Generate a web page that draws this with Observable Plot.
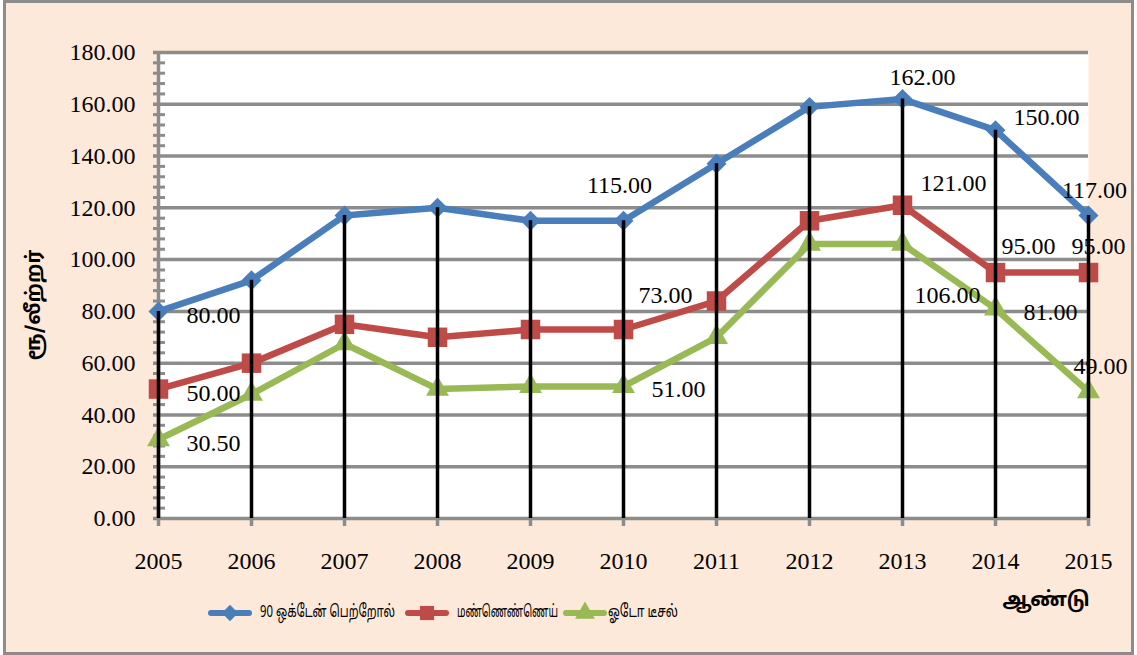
<!DOCTYPE html>
<html><head><meta charset="utf-8">
<script src="https://cdn.jsdelivr.net/npm/d3@7"></script>
<script src="https://cdn.jsdelivr.net/npm/@observablehq/plot@0.6"></script>
<style>
html,body{margin:0;padding:0;background:#fff;width:1137px;height:655px;overflow:hidden;}
#frame{position:absolute;left:3px;top:0;width:1131px;height:655px;box-sizing:border-box;border:3px solid #8c8c8c;background:#fde9d9;}
#chart{position:absolute;left:0;top:0;}
#ytitle{position:absolute;left:35px;top:305px;transform:translate(-50%,-50%) rotate(-90deg);white-space:nowrap;font:bold 20px "Noto Sans Tamil","Lohit Tamil","Latha","Liberation Serif",serif;color:#000;}
#xtitle{position:absolute;left:1046px;top:601px;transform:translate(-50%,-50%);white-space:nowrap;font:bold 20px "Noto Sans Tamil","Lohit Tamil","Latha","Liberation Serif",serif;color:#000;}
#legend{position:absolute;left:0;top:0;width:1137px;height:655px;pointer-events:none;}
#legend svg{position:absolute;}
#legend .lt{position:absolute;white-space:nowrap;font:17px "Noto Sans Tamil","Lohit Tamil","Latha","Liberation Sans",sans-serif;color:#000;transform-origin:0 50%;line-height:22px;}
</style></head><body>
<div id="frame"></div>
<div id="chart"></div>
<div id="ytitle">ரூ/லீற்றர்</div>
<div id="xtitle">ஆண்டு</div>
<div id="legend"></div>
<script>
const years = [2005, 2006, 2007, 2008, 2009, 2010, 2011, 2012, 2013, 2014, 2015];
const petrol = [80, 92, 117, 120, 115, 115, 137, 159, 162, 150, 117];
const kerosene = [50, 60, 75, 70, 73, 73, 84, 115, 121, 95, 95];
const diesel = [30.5, 48, 67.5, 50, 51, 51, 70, 106, 106, 81, 49];
const seriesNames = ["90 ஒக்டேன் பெற்றோல்", "மண்ணெண்ணெய்", "ஓடோ டீசல்"];
const seriesColors = ["#4a7ebb", "#be4b48", "#98b954"];
const yTicks = [0, 20, 40, 60, 80, 100, 120, 140, 160, 180];
// labelled points: [series index, year]
const labelled = [[0, 2005], [0, 2010], [0, 2013], [0, 2014], [0, 2015],
                  [1, 2005], [1, 2010], [1, 2013], [1, 2014], [1, 2015],
                  [2, 2005], [2, 2010], [2, 2013], [2, 2014], [2, 2015]];

const allValues = [petrol, kerosene, diesel];
const rows = [];
allValues.forEach((vals, s) => vals.forEach((v, i) => rows.push({series: seriesNames[s], s, year: years[i], value: v})));
const bySeries = s => rows.filter(r => r.s === s);

// label offsets (layout, px)
const offsets = {
  "0-2005": [55, 4], "0-2010": [-4, -35], "0-2013": [20, -22], "0-2014": [51, -13], "0-2015": [6, -25],
  "1-2005": [55, 4], "1-2010": [42, -34], "1-2013": [51, -22], "1-2014": [33, -26], "1-2015": [10, -26],
  "2-2005": [55, 4], "2-2010": [55, 3], "2-2013": [45, 51], "2-2014": [55, 4], "2-2015": [12, -25]
};

const minorTicks = d3.range(0, 181, 4).filter(v => v % 20 !== 0);
const symbols = ["diamond2", "square", "triangle"];
const radii = [9, 11, 8.5];
const gray = "#8c8c8c";

const marks = [
  Plot.frame({fill: "white", stroke: null}),
  Plot.ruleY(yTicks, {stroke: gray, strokeWidth: 3.5, insetLeft: -5}),
  Plot.ruleX([years[0]], {stroke: gray, strokeWidth: 3.5}),
  Plot.ruleY(minorTicks, {x1: years[0], x2: years[0], stroke: gray, strokeWidth: 3, insetLeft: -5, insetRight: -7}),
  Plot.axisY({ticks: yTicks, tickFormat: d => d.toFixed(2), tickSize: 0, tickPadding: 23, fontSize: 24, label: null}),
  Plot.axisX({ticks: years, tickFormat: d => String(d), tickSize: 8, tickPadding: 25, stroke: gray, strokeWidth: 3.5, fontSize: 24, label: null})
];
[0, 1, 2].forEach(s => {
  marks.push(Plot.line(bySeries(s), {x: "year", y: "value", stroke: seriesColors[s], strokeWidth: 6.5, strokeLinejoin: "round"}));
});
[0, 1, 2].forEach(s => {
  marks.push(Plot.dot(bySeries(s), {x: "year", y: "value", fill: seriesColors[s], symbol: symbols[s], r: radii[s]}));
});
marks.push(Plot.ruleX(bySeries(0), {x: "year", y1: 0, y2: "value", stroke: "black", strokeWidth: 3.5}));
labelled.forEach(([s, yr]) => {
  const row = rows.find(r => r.s === s && r.year === yr);
  const [dx, dy] = offsets[s + "-" + yr];
  marks.push(Plot.text([row], {x: "year", y: "value", text: d => d.value.toFixed(2), dx, dy, fontSize: 24, fill: "black"}));
});

const chart = Plot.plot({
  width: 1137, height: 580,
  marginLeft: 158, marginRight: 49, marginTop: 52, marginBottom: 62,
  x: {type: "linear", domain: [2005, 2015], label: null},
  y: {domain: [0, 180], label: null},
  style: {background: "transparent", fontFamily: "'Liberation Serif', serif", fontSize: "24px", color: "black", overflow: "visible"},
  marks
});
document.getElementById("chart").appendChild(chart);

// legend (layout: swatch left x, text left x, text width)
const legendLayout = [[210, 260, 135], [407, 457, 101], [565, 608, 70]];
const legendY = 613;
const legend = document.getElementById("legend");
const d3syms = [d3.symbolDiamond2, d3.symbolSquare, d3.symbolTriangle];
const symSizes = [170, 200, 170];
seriesNames.forEach((name, i) => {
  const [sx, tx, tw] = legendLayout[i];
  const path = d3.symbol(d3syms[i], symSizes[i])();
  const svg = document.createElementNS("http://www.w3.org/2000/svg", "svg");
  svg.setAttribute("width", 44); svg.setAttribute("height", 30);
  svg.style.left = (sx - 2) + "px"; svg.style.top = (legendY - 15) + "px";
  svg.innerHTML = `<line x1="3" x2="41" y1="15" y2="15" stroke="${seriesColors[i]}" stroke-width="6" stroke-linecap="round"/><path transform="translate(22,15)" d="${path}" fill="${seriesColors[i]}"/>`;
  legend.appendChild(svg);
  const t = document.createElement("span");
  t.className = "lt";
  t.textContent = name;
  t.style.left = tx + "px"; t.style.top = (legendY - 11) + "px";
  legend.appendChild(t);
  const w = t.getBoundingClientRect().width;
  if (w > 0) t.style.transform = `scaleX(${tw / w})`;
});
</script>
</body></html>
